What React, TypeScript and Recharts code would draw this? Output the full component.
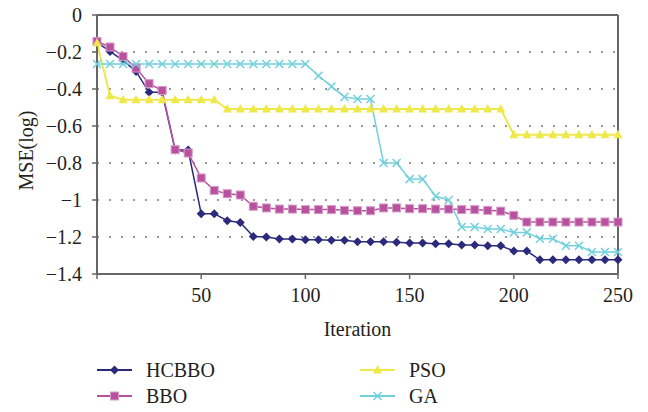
import React from "react";
import {
  LineChart,
  Line,
  XAxis,
  YAxis,
  CartesianGrid,
  ReferenceLine,
  Legend,
} from "recharts";

// iterations (one marker every 6.25 iterations)
const iterations = [
  0, 6.25, 12.5, 18.75, 25, 31.25, 37.5, 43.75, 50, 56.25, 62.5, 68.75, 75,
  81.25, 87.5, 93.75, 100, 106.25, 112.5, 118.75, 125, 131.25, 137.5, 143.75,
  150, 156.25, 162.5, 168.75, 175, 181.25, 187.5, 193.75, 200, 206.25, 212.5,
  218.75, 225, 231.25, 237.5, 243.75, 250,
];

const hcbbo = [
  -0.148, -0.197, -0.245, -0.305, -0.418, -0.418, -0.73, -0.73, -1.074, -1.074,
  -1.112, -1.121, -1.197, -1.2, -1.211, -1.211, -1.215, -1.215, -1.218, -1.218,
  -1.225, -1.225, -1.225, -1.229, -1.233, -1.233, -1.236, -1.236, -1.243,
  -1.243, -1.247, -1.247, -1.276, -1.276, -1.323, -1.323, -1.323, -1.323,
  -1.323, -1.323, -1.323,
];

const bbo = [
  -0.143, -0.173, -0.224, -0.287, -0.371, -0.408, -0.728, -0.746, -0.881,
  -0.948, -0.966, -0.973, -1.034, -1.043, -1.049, -1.049, -1.052, -1.052,
  -1.052, -1.056, -1.058, -1.058, -1.043, -1.043, -1.047, -1.047, -1.049,
  -1.049, -1.052, -1.052, -1.056, -1.06, -1.083, -1.119, -1.119, -1.119,
  -1.119, -1.119, -1.119, -1.119, -1.119,
];

const pso = [
  -0.151, -0.436, -0.458, -0.458, -0.458, -0.458, -0.458, -0.458, -0.458,
  -0.458, -0.508, -0.508, -0.508, -0.508, -0.508, -0.508, -0.508, -0.508,
  -0.508, -0.508, -0.508, -0.508, -0.508, -0.508, -0.508, -0.508, -0.508,
  -0.508, -0.508, -0.508, -0.508, -0.508, -0.647, -0.647, -0.647, -0.647,
  -0.647, -0.647, -0.647, -0.647, -0.647,
];

const ga = [
  -0.265, -0.265, -0.265, -0.265, -0.265, -0.265, -0.265, -0.265, -0.265,
  -0.265, -0.265, -0.265, -0.265, -0.265, -0.265, -0.265, -0.265, -0.328,
  -0.386, -0.443, -0.454, -0.454, -0.8, -0.8, -0.887, -0.887, -0.98, -1.0,
  -1.146, -1.146, -1.157, -1.157, -1.175, -1.175, -1.209, -1.209, -1.247,
  -1.247, -1.281, -1.281, -1.281,
];

const xTicks = [0, 50, 100, 150, 200, 250];
const yTicks = [0, -0.2, -0.4, -0.6, -0.8, -1, -1.2, -1.4];

const data = iterations.map((it, i) => ({
  it,
  HCBBO: hcbbo[i],
  BBO: bbo[i],
  PSO: pso[i],
  GA: ga[i],
}));

const FONT = "'Liberation Serif', 'DejaVu Serif', serif";
const TEXT = "#231f20";
const AXIS = "#666";

const C_HCBBO = "#2b2a7c";
const C_BBO = "#b8529e";
const C_PSO = "#efe84b";
const C_GA = "#72d1dd";

const Diamond = ({ cx, cy }) => (
  <path
    d={`M${cx} ${cy - 4.5}L${cx + 4.5} ${cy}L${cx} ${cy + 4.5}L${cx - 4.5} ${cy}Z`}
    fill={C_HCBBO}
  />
);
const Square = ({ cx, cy }) => (
  <rect x={cx - 4} y={cy - 4} width={8} height={8} fill={C_BBO} stroke="#d69bcb" strokeWidth={1} />
);
const Triangle = ({ cx, cy }) => (
  <path d={`M${cx} ${cy - 5}L${cx + 4.5} ${cy + 3.5}L${cx - 4.5} ${cy + 3.5}Z`} fill={C_PSO} />
);
const Cross = ({ cx, cy }) => (
  <path
    d={`M${cx - 4} ${cy - 4}L${cx + 4} ${cy + 4}M${cx + 4} ${cy - 4}L${cx - 4} ${cy + 4}`}
    stroke={C_GA}
    strokeWidth={1.5}
    fill="none"
  />
);

const fmtY = (v) => {
  if (v === 0) return "0";
  return "\u2212" + String(Math.abs(Number(v.toFixed(1))));
};

const legendItems = [
  { name: "HCBBO", color: C_HCBBO, Mark: Diamond, x: 97, y: 26 },
  { name: "BBO", color: C_BBO, Mark: Square, x: 97, y: 52 },
  { name: "PSO", color: C_PSO, Mark: Triangle, x: 360, y: 26 },
  { name: "GA", color: C_GA, Mark: Cross, x: 360, y: 52 },
];

const CustomLegend = () => (
  <svg width={648} height={68} style={{ display: "block" }}>
    {legendItems.map(({ name, color, Mark, x, y }) => (
      <g key={name}>
        <line x1={x} y1={y} x2={x + 35} y2={y} stroke={color} strokeWidth={2} />
        <Mark cx={x + 17.5} cy={y} />
        <text x={x + 49} y={y + 7} fontFamily={FONT} fontSize={20} fill={TEXT}>
          {name}
        </text>
      </g>
    ))}
  </svg>
);

const YLabel = ({ viewBox }) => {
  const cy = viewBox.y + viewBox.height / 2 + 6;
  return (
    <text
      x={26}
      y={cy}
      transform={`rotate(-90, 26, ${cy})`}
      textAnchor="middle"
      dominantBaseline="central"
      fontFamily={FONT}
      fontSize={20}
      fill={TEXT}
    >
      MSE(log)
    </text>
  );
};

export default function App() {
  return (
    <div style={{ position: "absolute", left: 0, top: 0, width: 648, height: 412, background: "#fff" }}>
      <LineChart
        width={648}
        height={412}
        data={data}
        margin={{ top: 15, right: 30, left: 0, bottom: 0 }}
      >
        <CartesianGrid
          horizontal
          vertical={false}
          stroke="#999"
          strokeWidth={2}
          strokeDasharray="2 10"
        />
        <XAxis
          dataKey="it"
          type="number"
          domain={[0, 250]}
          ticks={xTicks}
          tickFormatter={(v) => (v === 0 ? "" : String(v))}
          height={70}
          tickSize={5}
          tickMargin={9}
          axisLine={{ stroke: AXIS, strokeWidth: 2 }}
          tickLine={{ stroke: AXIS, strokeWidth: 1.5 }}
          tick={{ fontFamily: FONT, fontSize: 20, fill: TEXT }}
          label={{
            value: "Iteration",
            position: "insideBottom",
            offset: 8,
            style: { fontFamily: FONT, fontSize: 20, fill: TEXT },
          }}
        />
        <YAxis
          type="number"
          domain={[-1.4, 0]}
          ticks={yTicks}
          tickFormatter={fmtY}
          width={97}
          tickSize={5}
          tickMargin={10}
          axisLine={{ stroke: AXIS, strokeWidth: 2 }}
          tickLine={{ stroke: AXIS, strokeWidth: 1.5 }}
          tick={{ fontFamily: FONT, fontSize: 20, fill: TEXT }}
          label={<YLabel />}
        />
        <ReferenceLine y={0} stroke={AXIS} strokeWidth={2} />
        <ReferenceLine x={250} stroke={AXIS} strokeWidth={2} />
        <Legend
          verticalAlign="bottom"
          content={() => <CustomLegend />}
          wrapperStyle={{ left: 0, width: 648, height: 68 }}
        />
        <Line
          dataKey="HCBBO"
          stroke={C_HCBBO}
          strokeWidth={1.5}
          dot={(p) => <Diamond key={`h${p.index}`} cx={p.cx} cy={p.cy} />}
          activeDot={false}
          isAnimationActive={false}
        />
        <Line
          dataKey="BBO"
          stroke={C_BBO}
          strokeWidth={1.5}
          dot={(p) => <Square key={`b${p.index}`} cx={p.cx} cy={p.cy} />}
          activeDot={false}
          isAnimationActive={false}
        />
        <Line
          dataKey="PSO"
          stroke={C_PSO}
          strokeWidth={2}
          dot={(p) => <Triangle key={`p${p.index}`} cx={p.cx} cy={p.cy} />}
          activeDot={false}
          isAnimationActive={false}
        />
        <Line
          dataKey="GA"
          stroke={C_GA}
          strokeWidth={1.5}
          dot={(p) => <Cross key={`g${p.index}`} cx={p.cx} cy={p.cy} />}
          activeDot={false}
          isAnimationActive={false}
        />
      </LineChart>
    </div>
  );
}
